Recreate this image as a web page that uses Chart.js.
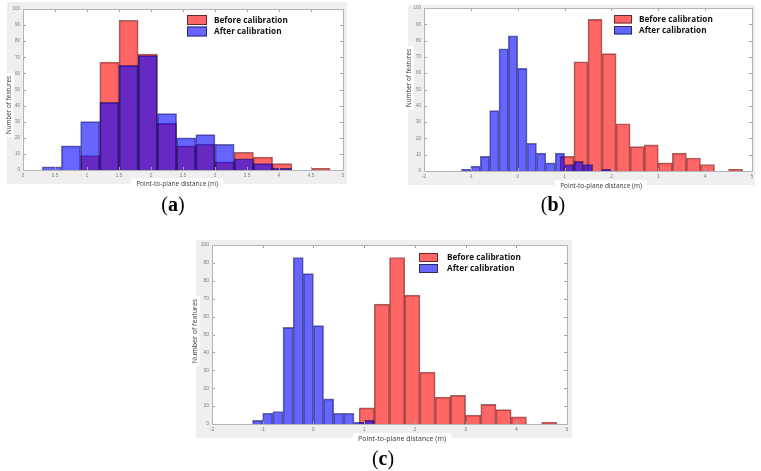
<!DOCTYPE html>
<html>
<head>
<meta charset="utf-8">
<script src="https://cdn.jsdelivr.net/npm/chart.js@4.4.1/dist/chart.umd.min.js"></script>
<style>
  body { margin: 0; background: #fff; width: 761px; height: 471px; position: relative; overflow: hidden; }
  canvas { position: absolute; }
  .tag { position: absolute; font-family: "Liberation Serif", "DejaVu Serif", serif; font-size: 20px; color: #000; transform: translate(-50%, -50%); white-space: nowrap; }
</style>
</head>
<body>
<canvas id="chart-a" width="352" height="195" style="left:0px;top:0px"></canvas>
<canvas id="chart-b" width="381" height="195" style="left:380px;top:0px"></canvas>
<canvas id="chart-c" width="395" height="220" style="left:185px;top:232px"></canvas>
<div class="tag" style="left:173px;top:204px">(<b>a</b>)</div>
<div class="tag" style="left:553px;top:204px">(<b>b</b>)</div>
<div class="tag" style="left:383px;top:458px">(<b>c</b>)</div>
<script>
// bin centres (m) and feature counts
const beforeBins = [1.05, 1.35, 1.65, 1.95, 2.25, 2.55, 2.85, 3.15, 3.45, 3.75, 4.05, 4.35, 4.65];
const beforeCounts = [9, 67, 93, 72, 29, 15, 16, 5, 11, 8, 4, 0, 1];
const beforeBinWidth = 0.3;

const afterBinsA = [0.45, 0.75, 1.05, 1.35, 1.65, 1.95, 2.25, 2.55, 2.85, 3.15, 3.45, 3.75, 4.05];
const afterCountsA = [2, 15, 30, 42, 65, 71, 35, 20, 22, 16, 7, 4, 1];
const afterBinWidthA = 0.3;

const afterBinsB = [-1.1, -0.9, -0.7, -0.5, -0.3, -0.1, 0.1, 0.3, 0.5, 0.7, 0.9, 1.1, 1.3, 1.5, 1.7, 1.9];
const afterCountsB = [1, 3, 9, 37, 75, 83, 63, 17, 11, 5, 11, 4, 6, 4, 0, 1];

const afterBinsC = [-1.1, -0.9, -0.7, -0.5, -0.3, -0.1, 0.1, 0.3, 0.5, 0.7, 0.9, 1.1];
const afterCountsC = [2, 6, 7, 54, 93, 84, 55, 14, 6, 6, 1, 2];
const afterBinWidthBC = 0.2;

// axis ranges and tick steps
const xRangeA = [0, 5], xStepA = 0.5;
const xRangeBC = [-2, 5], xStepBC = 1;
const yRange = [0, 100], yStep = 10;

const seriesLabels = ["Before calibration", "After calibration"];
const xTitle = "Point-to-plane distance (m)";
const yTitle = "Number of features";

// gray figure background, white axes, framed box with inward ticks,
// white-boxed axis titles and a legend inside the axes
const panelDecor = {
    id: "panelDecor",
    beforeDraw(chart, args, opts) {
        const ctx = chart.ctx, a = chart.chartArea;
        ctx.save();
        ctx.fillStyle = "#efefef";
        ctx.fillRect(opts.gray[0], opts.gray[1], opts.gray[2], opts.gray[3]);
        ctx.fillStyle = "#ffffff";
        ctx.fillRect(a.left, a.top, a.right - a.left, a.bottom - a.top);
        ctx.restore();
    },
    afterDatasetsDraw(chart) {
        const ctx = chart.ctx, a = chart.chartArea;
        const xs = chart.scales.x, ys = chart.scales.y;
        const len = 3;
        ctx.save();
        ctx.strokeStyle = "#a0a0a0";
        ctx.lineWidth = 1;
        ctx.beginPath();
        xs.ticks.forEach(t => {
            const px = Math.round(xs.getPixelForValue(t.value)) + 0.5;
            ctx.moveTo(px, a.bottom); ctx.lineTo(px, a.bottom - len);
            ctx.moveTo(px, a.top); ctx.lineTo(px, a.top + len);
        });
        ys.ticks.forEach(t => {
            const py = Math.round(ys.getPixelForValue(t.value)) + 0.5;
            ctx.moveTo(a.left, py); ctx.lineTo(a.left + len, py);
            ctx.moveTo(a.right, py); ctx.lineTo(a.right - len, py);
        });
        ctx.stroke();
        ctx.strokeStyle = "#b4b4b4";
        ctx.strokeRect(Math.round(a.left) + 0.5, Math.round(a.top) + 0.5,
            Math.round(a.right - a.left), Math.round(a.bottom - a.top));
        ctx.restore();
    },
    afterDraw(chart, args, opts) {
        const ctx = chart.ctx;
        ctx.save();
        // axis titles
        [[opts.xTitle, 0], [opts.yTitle, -Math.PI / 2]].forEach(([t, rot]) => {
            ctx.font = t.size + "px 'Open Sans', sans-serif";
            const w = ctx.measureText(t.text).width;
            ctx.translate(t.x, t.y);
            ctx.rotate(rot);
            ctx.fillStyle = "#ffffff";
            ctx.fillRect(-w / 2 - t.padX, -t.size / 2 - t.padY, w + 2 * t.padX, t.size + 2 * t.padY);
            ctx.fillStyle = "#3a3a3a";
            ctx.textAlign = "center";
            ctx.textBaseline = "middle";
            ctx.fillText(t.text, 0, 0);
            ctx.setTransform(1, 0, 0, 1, 0, 0);
        });
        // legend
        const lg = opts.legend;
        ctx.font = "bold " + lg.size + "px 'Open Sans', sans-serif";
        ctx.textAlign = "left";
        ctx.textBaseline = "middle";
        chart.data.datasets.forEach((ds, i) => {
            const y = lg.y + i * lg.step;
            ctx.fillStyle = ds.backgroundColor;
            ctx.fillRect(lg.x, y, lg.w, lg.h);
            ctx.strokeStyle = "rgba(0,0,0,0.6)";
            ctx.lineWidth = 1;
            ctx.strokeRect(lg.x + 0.5, y + 0.5, lg.w - 1, lg.h - 1);
            ctx.fillStyle = "#111111";
            ctx.fillText(ds.label, lg.x + lg.w + lg.gap, y + lg.h / 2 + 0.5);
        });
        ctx.restore();
    }
};

function toPoints(bins, counts) {
    return bins.map((b, i) => ({ x: b, y: counts[i] }));
}

// bar thickness = one bin width in pixels of the x scale
function binThickness(width) {
    return ctx => {
        const s = ctx.chart.scales.x;
        return Math.abs(s.getPixelForValue(width) - s.getPixelForValue(0));
    };
}

function makePanel(id, afterBins, afterCounts, afterWidth, xRange, xStep, cfg) {
    const tickFont = { family: "'Liberation Sans', sans-serif", size: cfg.tickSize };
    return new Chart(document.getElementById(id), {
        type: "bar",
        data: {
            datasets: [{
                label: seriesLabels[0],
                data: toPoints(beforeBins, beforeCounts),
                backgroundColor: "rgba(255,0,0,0.6)",
                borderColor: "rgba(60,0,0,0.55)",
                borderWidth: 1,
                grouped: false,
                barThickness: binThickness(beforeBinWidth),
                order: 2
            }, {
                label: seriesLabels[1],
                data: toPoints(afterBins, afterCounts),
                backgroundColor: "rgba(0,0,255,0.6)",
                borderColor: "rgba(0,0,60,0.55)",
                borderWidth: 1,
                grouped: false,
                barThickness: binThickness(afterWidth),
                order: 1
            }]
        },
        options: {
            responsive: false,
            animation: false,
            events: [],
            layout: { padding: cfg.padding },
            plugins: {
                legend: { display: false },
                tooltip: { enabled: false },
                panelDecor: cfg.decor
            },
            scales: {
                x: {
                    type: "linear",
                    min: xRange[0], max: xRange[1],
                    offset: false,
                    grid: { display: false, drawTicks: false },
                    border: { display: false },
                    ticks: {
                        stepSize: xStep, autoSkip: false, maxRotation: 0,
                        padding: 3, color: "#7a7a7a", font: tickFont,
                        callback: v => String(v)
                    },
                    afterFit: s => { s.height = cfg.xAxisHeight; }
                },
                y: {
                    min: yRange[0], max: yRange[1],
                    grid: { display: false, drawTicks: false },
                    border: { display: false },
                    ticks: {
                        stepSize: yStep, padding: 3, color: "#7a7a7a", font: tickFont,
                        callback: v => String(v)
                    },
                    afterFit: s => { s.width = cfg.yAxisWidth; }
                }
            }
        },
        plugins: [panelDecor]
    });
}

makePanel("chart-a", afterBinsA, afterCountsA, afterBinWidthA, xRangeA, xStepA, {
    tickSize: 4.5,
    padding: { left: 0, top: 9, right: 9, bottom: 0 },
    yAxisWidth: 23,
    xAxisHeight: 25,
    decor: {
        gray: [7, 2, 340, 182],
        xTitle: { text: xTitle, x: 177, y: 184, size: 6.5, padX: 5, padY: 2.5 },
        yTitle: { text: yTitle, x: 9, y: 105, size: 6.3, padX: 3, padY: 1.5 },
        legend: { x: 187, y: 15, w: 20, h: 10, step: 11.5, gap: 7, size: 8.2 }
    }
});

makePanel("chart-b", afterBinsB, afterCountsB, afterBinWidthBC, xRangeBC, xStepBC, {
    tickSize: 4.5,
    padding: { left: 0, top: 8, right: 9, bottom: 0 },
    yAxisWidth: 44,
    xAxisHeight: 24,
    decor: {
        gray: [28, 5, 347, 180],
        xTitle: { text: xTitle, x: 221, y: 186, size: 6.5, padX: 5, padY: 2.5 },
        yTitle: { text: yTitle, x: 29, y: 78, size: 6.3, padX: 3, padY: 1.5 },
        legend: { x: 234, y: 15, w: 18, h: 8.5, step: 11, gap: 7, size: 8.2 }
    }
});

makePanel("chart-c", afterBinsC, afterCountsC, afterBinWidthBC, xRangeBC, xStepBC, {
    tickSize: 5,
    padding: { left: 0, top: 13, right: 13, bottom: 0 },
    yAxisWidth: 27,
    xAxisHeight: 28,
    decor: {
        gray: [11, 8, 376, 198],
        xTitle: { text: xTitle, x: 217, y: 207, size: 7, padX: 5, padY: 2.5 },
        yTitle: { text: yTitle, x: 10, y: 99, size: 7, padX: 3, padY: 1.5 },
        legend: { x: 234, y: 21, w: 19, h: 9, step: 11, gap: 9, size: 8.2 }
    }
});
</script>
</body>
</html>
